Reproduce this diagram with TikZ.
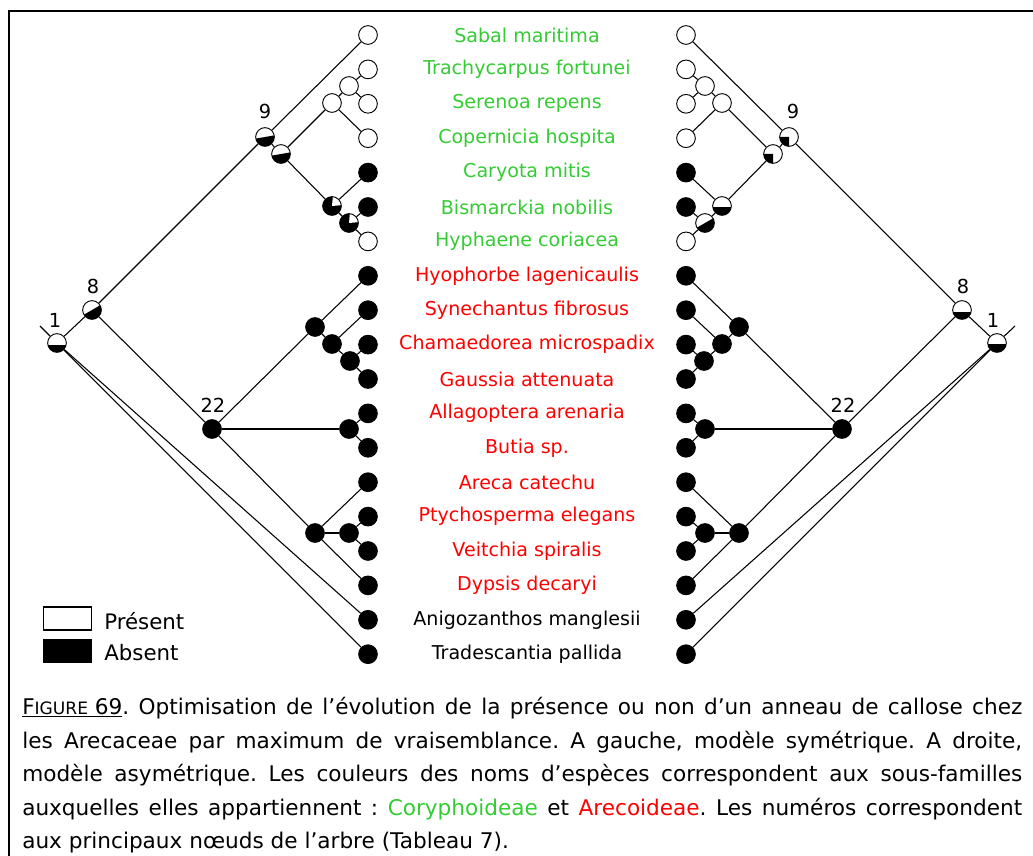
\documentclass[tikz,border=0pt]{standalone}
\usepackage{fontspec}
\setmainfont{DejaVu Sans}
\definecolor{spgreen}{RGB}{51,204,51}
\definecolor{spred}{RGB}{255,0,0}
\begin{document}
\begin{tikzpicture}[x=0.75pt,y=-0.75pt,
  nd/.style={circle,draw=black,line width=0.7pt,minimum size=14pt,inner sep=0pt,fill=white},
  bn/.style={nd,fill=black},
  halfb/.style={nd,path picture={\fill[black] ([yshift=#1]path picture bounding box.west) rectangle (path picture bounding box.south east);}},
  sect/.style 2 args={nd,path picture={\fill[black] (path picture bounding box.center) -- ++(#1:10pt) arc[start angle=#1,end angle=#2,radius=10pt] -- cycle;}},
  wsect/.style 2 args={nd,fill=black,path picture={\fill[white] (path picture bounding box.center) -- ++(#1:10pt) arc[start angle=#1,end angle=#2,radius=10pt] -- cycle;}},
  edge/.style={draw=black,line width=0.8pt},
  sp/.style={font=\fontsize{14.3}{16}\selectfont,inner sep=0pt},
  lg/.style={font=\fontsize{16}{18}\selectfont,inner sep=0pt},
  num/.style={font=\fontsize{14.5}{16}\selectfont,inner sep=0pt},
]
\useasboundingbox (0,0) rectangle (1033,856);
\begin{scope}
\clip (0,0) rectangle (1033,856);
\draw[line width=1.6pt] (9,11) rectangle (1060,890);
\end{scope}

% leaves
\foreach \i/\c in {1/white,2/white,3/white,4/white,5/black,6/black,7/white,8/black,9/black,10/black,11/black,12/black,13/black,14/black,15/black,16/black,17/black,18/black,19/black}{
  \node[nd,fill=\c] (l\i) at (368,{35+(\i-1)*34.4}) {};
  \node[nd,fill=\c] (r\i) at (686,{35+(\i-1)*34.4}) {};
}

% species names
\node[sp,text=spgreen] (t1) at (527,35) {Sabal maritima};
\node[sp,text=spgreen] (t2) at (527,69.4) {Trachycarpus fortunei};
\node[sp,text=spgreen] (t3) at (527,103.8) {Serenoa repens};
\node[sp,text=spgreen] (t4) at (527,138.2) {Copernicia hospita};
\node[sp,text=spgreen] (t5) at (527,172.6) {Caryota mitis};
\node[sp,text=spgreen] (t6) at (527,207) {Bismarckia nobilis};
\node[sp,text=spgreen] (t7) at (527,241.4) {Hyphaene coriacea};
\node[sp,text=spred] (t8) at (527,275.8) {Hyophorbe lagenicaulis};
\node[sp,text=spred] (t9) at (527,310.2) {Synechantus fibrosus};
\node[sp,text=spred] (t10) at (527,344.6) {Chamaedorea microspadix};
\node[sp,text=spred] (t11) at (527,379) {Gaussia attenuata};
\node[sp,text=spred] (t12) at (527,413.4) {Allagoptera arenaria};
\node[sp,text=spred] (t13) at (527,447.8) {Butia sp.};
\node[sp,text=spred] (t14) at (527,482.2) {Areca catechu};
\node[sp,text=spred] (t15) at (527,516.6) {Ptychosperma elegans};
\node[sp,text=spred] (t16) at (527,551) {Veitchia spiralis};
\node[sp,text=spred] (t17) at (527,585.4) {Dypsis decaryi};
\node[sp,text=black] (t18) at (527,619.8) {Anigozanthos manglesii};
\node[sp,text=black] (t19) at (527,654.2) {Tradescantia pallida};

% left tree internal nodes
\coordinate (Lroot) at (40,326);
\node[halfb=-1.5pt] (L1) at (57,343) {};
\node[sect={210}{390}] (L8) at (92,310) {};
\node[sect={190}{370}] (L9) at (265,137) {};
\node[sect={190}{370}] (La) at (281,154) {};
\node[nd] (Lb) at (332,103) {};
\node[nd] (Lc) at (349,86) {};
\node[wsect={5}{85}] (Ld) at (332,206) {};
\node[wsect={5}{85}] (Le) at (349,223) {};
\node[bn] (L22) at (212,429) {};
\node[bn] (Lf) at (315,327) {};
\node[bn] (Lg) at (332,344) {};
\node[bn] (Lh) at (350,361) {};
\node[bn] (Li) at (349,429) {};
\node[bn] (Lj) at (315,533) {};
\node[bn] (Lk) at (349,533) {};

% right tree internal nodes
\coordinate (Rroot) at (1015,326);
\node[halfb=-1pt] (R1) at (997,343) {};
\node[halfb=-1.5pt] (R8) at (962,310) {};
\node[sect={180}{270}] (R9) at (789,137) {};
\node[sect={180}{270}] (Ra) at (773,154) {};
\node[nd] (Rb) at (722,103) {};
\node[nd] (Rc) at (705,86) {};
\node[halfb=-1pt] (Rd) at (722,206) {};
\node[sect={210}{390}] (Re) at (705,223) {};
\node[bn] (R22) at (842,429) {};
\node[bn] (Rf) at (739,327) {};
\node[bn] (Rg) at (722,344) {};
\node[bn] (Rh) at (704,361) {};
\node[bn] (Ri) at (705,429) {};
\node[bn] (Rj) at (739,533) {};
\node[bn] (Rk) at (705,533) {};

% node numbers
\node[num] (nL1) at (55,320) {1};
\node[num] (nL8) at (93,286) {8};
\node[num] (nL9) at (265,111) {9};
\node[num] (nL22) at (213,405) {22};
\node[num] (nR1) at (993,320) {1};
\node[num] (nR8) at (963,286) {8};
\node[num] (nR9) at (793,111) {9};
\node[num] (nR22) at (843,405) {22};

% edges (left)
\foreach \a/\b in {L1/Lroot,L1/l18,L1/l19,L1/L8,L8/L9,L8/L22,L9/l1,L9/La,La/Lb,La/Ld,Lb/Lc,Lb/l4,Lc/l2,Lc/l3,Ld/l5,Ld/Le,Le/l6,Le/l7,L22/Lf,L22/Li,L22/Lj,Lf/l8,Lf/Lg,Lg/l9,Lg/Lh,Lh/l10,Lh/l11,Li/l12,Li/l13,Lj/l14,Lj/Lk,Lj/l17,Lk/l15,Lk/l16}
  \draw[edge] (\a) -- (\b);
% edges (right)
\foreach \a/\b in {R1/Rroot,R1/r18,R1/r19,R1/R8,R8/R9,R8/R22,R9/r1,R9/Ra,Ra/Rb,Ra/Rd,Rb/Rc,Rb/r4,Rc/r2,Rc/r3,Rd/r5,Rd/Re,Re/r6,Re/r7,R22/Rf,R22/Ri,R22/Rj,Rf/r8,Rf/Rg,Rg/r9,Rg/Rh,Rh/r10,Rh/r11,Ri/r12,Ri/r13,Rj/r14,Rj/Rk,Rj/r17,Rk/r15,Rk/r16}
  \draw[edge] (\a) -- (\b);

% legend
\node[draw=black,line width=1.2pt,fill=white,minimum width=36pt,minimum height=17pt,inner sep=0pt] (lgP) at (67.5,618.5) {};
\node[draw=black,line width=1.2pt,fill=black,minimum width=36pt,minimum height=17pt,inner sep=0pt] (lgA) at (67.5,651) {};
\node[lg,anchor=west] (txP) at (104,621) {Présent};
\node[lg,anchor=west] (txA) at (104,653) {Absent};

% caption
\node[anchor=north west,text width=750pt,align=justify,inner sep=0pt,
      font=\fontsize{16.2}{25.2}\selectfont] (cap) at (22,697)
{\frenchspacing\tolerance=9999 \underline{F{\fontsize{12.8}{25}\selectfont IGURE} 69}. Optimisation de l’évolution de la présence ou non d’un anneau de callose chez\linebreak
les Arecaceae par maximum de vraisemblance. A gauche, modèle symétrique. A droite,\linebreak
modèle asymétrique. Les couleurs des noms d’espèces correspondent aux sous-familles\linebreak
auxquelles elles appartiennent : \textcolor{spgreen}{Coryphoideae} et \textcolor{spred}{Arecoideae}. Les numéros correspondent\linebreak
aux principaux nœuds de l’arbre (Tableau 7).};
\end{tikzpicture}
\end{document}
